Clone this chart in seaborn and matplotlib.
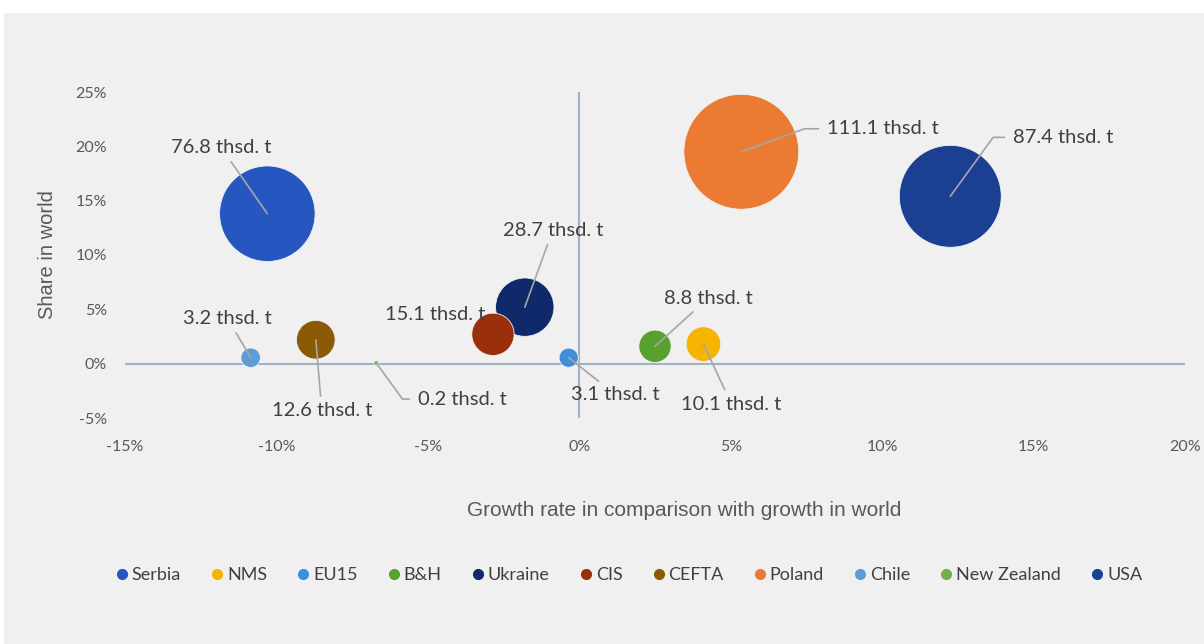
import pandas as pd
import matplotlib.pyplot as plt
import seaborn as sns
from matplotlib.lines import Line2D
from matplotlib.patches import Rectangle
from matplotlib.ticker import FuncFormatter, MultipleLocator

# data
countries = ['Serbia', 'NMS', 'EU15', 'B&H', 'Ukraine', 'CIS', 'CEFTA',
             'Poland', 'Chile', 'New Zealand', 'USA']
growth = [-10.3, 4.1, -0.35, 2.5, -1.8, -2.85, -8.7, 5.35, -10.85, -6.7, 12.25]
share = [13.8, 1.8, 0.55, 1.6, 5.2, 2.7, 2.2, 19.5, 0.55, 0.05, 15.4]
tonnes = [76.8, 10.1, 3.1, 8.8, 28.7, 15.1, 12.6, 111.1, 3.2, 0.2, 87.4]

colors = {
    'Serbia': '#2657C1', 'NMS': '#F4B400', 'EU15': '#3F8FD8', 'B&H': '#58A12F',
    'Ukraine': '#10296B', 'CIS': '#9A2F0B', 'CEFTA': '#8A5A04', 'Poland': '#EB7B33',
    'Chile': '#5C9DD6', 'New Zealand': '#72B04A', 'USA': '#1B3F92',
}

df = pd.DataFrame({'Country': countries, 'Growth': growth, 'Share': share, 'Tonnes': tonnes})

# label placement (offsets in pixels from bubble centre, alignment, leader style)
label_pos = {
    'Serbia': (-46, 66, 'center', None),
    'Chile': (-23, 39, 'center', None),
    'CEFTA': (6, -71, 'center', None),
    'New Zealand': (42, -36, 'left', -54),
    'CIS': (-8, 20, 'right', 'none'),
    'Ukraine': (28, 77, 'center', None),
    'EU15': (47, -37, 'center', None),
    'B&H': (53, 48, 'center', None),
    'NMS': (28, -60, 'center', None),
    'Poland': (86, 23, 'left', 20),
    'USA': (63, 59, 'left', 54),
}

sns.set_style('white')
plt.rcParams['font.family'] = ['Lato', 'DejaVu Sans']

fig = plt.figure(figsize=(12.04, 6.44), dpi=100, facecolor='white')
fig.patches.append(Rectangle((4 / 1204, 0), 1, 1 - 13 / 644, transform=fig.transFigure,
                             facecolor='#F0F0F0', edgecolor='none', zorder=-10))
ax = fig.add_axes([125 / 1204, 1 - 418 / 644, 1060 / 1204, 326 / 644])
ax.set_facecolor('none')

k = (10.9 * 0.72) ** 2  # bubble area in pt^2 per thousand tonnes
sns.scatterplot(data=df, x='Growth', y='Share', hue='Country', palette=colors,
                size='Tonnes', sizes=(k * min(tonnes), k * max(tonnes)),
                size_norm=(min(tonnes), max(tonnes)), legend=False,
                edgecolor='#F0F0F0', linewidth=0.6, alpha=1, ax=ax, zorder=2)

ax.set_xlim(-15, 20)
ax.set_ylim(-5, 25)
ax.xaxis.set_major_locator(MultipleLocator(5))
ax.yaxis.set_major_locator(MultipleLocator(5))
pct = FuncFormatter(lambda v, p: f'{v:.0f}%')
ax.xaxis.set_major_formatter(pct)
ax.yaxis.set_major_formatter(pct)
ax.tick_params(axis='x', length=0, pad=16, labelsize=11.5, labelcolor='#595959')
ax.tick_params(axis='y', length=0, pad=13, labelsize=11.5, labelcolor='#595959')
for s in ax.spines.values():
    s.set_visible(False)
ax.axhline(0, color='#A3B1C2', lw=1.5, zorder=1)
ax.axvline(0, color='#A3B1C2', lw=1.5, zorder=1)

ax.set_xlabel('Growth rate in comparison with growth in world', family='Liberation Sans',
              fontsize=15, color='#595959')
ax.xaxis.set_label_coords(0.528, -0.255)
ax.set_ylabel('Share in world', family='Liberation Sans', fontsize=14.5, color='#595959')
ax.yaxis.set_label_coords(-0.064, 0.5)

for c, x, y, t in zip(countries, growth, share, tonnes):
    dx, dy, ha, conn = label_pos[c]
    if conn == 'none':
        arrow = None
    elif conn is None:
        arrow = dict(arrowstyle='-', color='#A6A6A6', lw=1.2, shrinkA=2, shrinkB=0)
    else:
        arrow = dict(arrowstyle='-', color='#A6A6A6', lw=1.2, shrinkA=4, shrinkB=0,
                     relpos=(0, 0.5), connectionstyle=f'angle,angleA=0,angleB={conn},rad=0')
    ax.annotate(f'{t:.1f} thsd. t', xy=(x, y), xytext=(dx * 0.72, dy * 0.72),
                textcoords='offset points', ha=ha, va='center', fontsize=14.5,
                color='#404040', arrowprops=arrow, zorder=3)

handles = [Line2D([], [], marker='o', ls='', color=colors[c], markersize=7) for c in countries]
fig.legend(handles, countries, loc='center', bbox_to_anchor=(0.522, 0.107), ncol=11,
           frameon=False, handletextpad=0.15, columnspacing=1.6, handlelength=0.8,
           fontsize=13, labelcolor='#404040')

fig.savefig('out.png', dpi=100, facecolor='white')
